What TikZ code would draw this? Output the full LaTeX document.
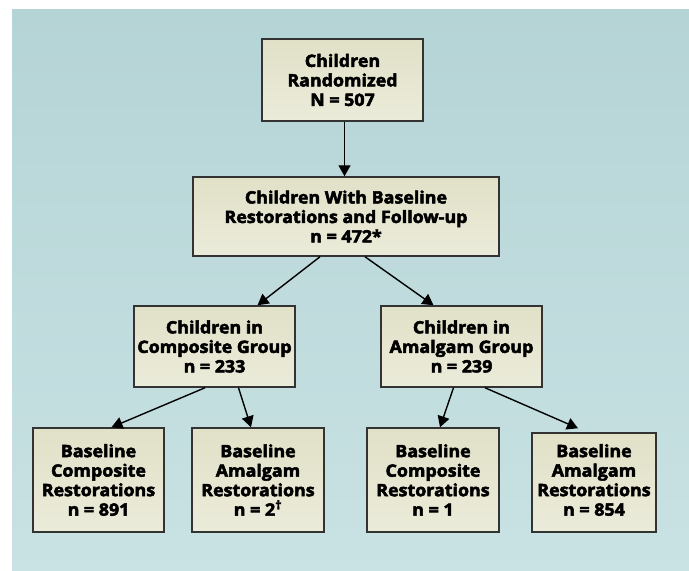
\documentclass[tikz,border=0pt]{standalone}
\usepackage{fontspec}
\setmainfont{Open Sans}[BoldFeatures={FakeBold=3,FakeStretch=1.05}]
\usetikzlibrary{arrows.meta,shadows}
\definecolor{panelTop}{HTML}{B5D4D6}
\definecolor{panelBot}{HTML}{C9E2E3}
\definecolor{boxTop}{HTML}{E1E1C8}
\definecolor{boxBot}{HTML}{EBEBDA}
\definecolor{boxLine}{HTML}{333333}
\tikzset{
  boxtext/.style={align=center, inner sep=0pt, font=\bfseries\fontsize{17}{19.5}\selectfont},
  flowbox/.style={boxtext, draw=boxLine, line width=1.5pt, top color=boxTop, bottom color=boxBot,
    drop shadow={shadow xshift=1pt, shadow yshift=-1pt, opacity=0.35}},
  flowarrow/.style={draw=black, line width=1.4pt, -{Triangle[width=12pt,length=11pt]}}
}
\begin{document}
\begin{tikzpicture}[x=1pt,y=-1pt]
\useasboundingbox (0,0) rectangle (689,571);
\fill[white] (0,0) rectangle (689,571);
\shade[top color=panelTop, bottom color=panelBot] (12,9) rectangle (689,571);

\node[flowbox, minimum width=161pt, minimum height=82pt] (A) at (342.5,80) {Children\\Randomized\\N = 507};
\node[flowbox, minimum width=306pt, minimum height=79pt] (B) at (346,216.5) {Children With Baseline\\Restorations and Follow-up\\n = 472*};
\node[flowbox, minimum width=161pt, minimum height=81pt] (C1) at (214.5,346.5) {Children in\\Composite Group\\n = 233};
\node[flowbox, minimum width=161pt, minimum height=81pt] (C2) at (461.5,346.5) {Children in\\Amalgam Group\\n = 239};
\node[flowbox, minimum width=131pt, minimum height=104pt] (D1) at (98.5,480) {Baseline\\Composite\\Restorations\\n = 891};
\node[flowbox, minimum width=132pt, minimum height=104pt] (D2) at (258,480) {Baseline\\Amalgam\\Restorations\\n = 2\textsuperscript{†}};
\node[flowbox, minimum width=132pt, minimum height=104pt] (D3) at (433,480) {Baseline\\Composite\\Restorations\\n = 1};
\node[flowbox, minimum width=124pt, minimum height=99pt,
  label={[boxtext, yshift=2.5pt]center:{Baseline\\Amalgam\\Restorations\\n = 854}}] (D4) at (594,482.5) {};

\draw[flowarrow] ([xshift=2pt]A.south) -- ([xshift=-1.5pt]B.north);
\draw[flowarrow] ([xshift=-26pt]B.south) -- ([xshift=43pt]C1.north);
\draw[flowarrow] ([xshift=19pt]B.south) -- ([xshift=-28pt]C2.north);
\draw[flowarrow] ([xshift=-9.5pt]C1.south) -- ([xshift=13pt]D1.north);
\draw[flowarrow] ([xshift=24pt]C1.south) -- ([xshift=-7pt]D2.north);
\draw[flowarrow] ([xshift=-8pt]C2.south) -- ([xshift=7pt]D3.north);
\draw[flowarrow] ([xshift=23.5pt]C2.south) -- ([xshift=-16pt,yshift=4pt]D4.north);
\end{tikzpicture}
\end{document}
